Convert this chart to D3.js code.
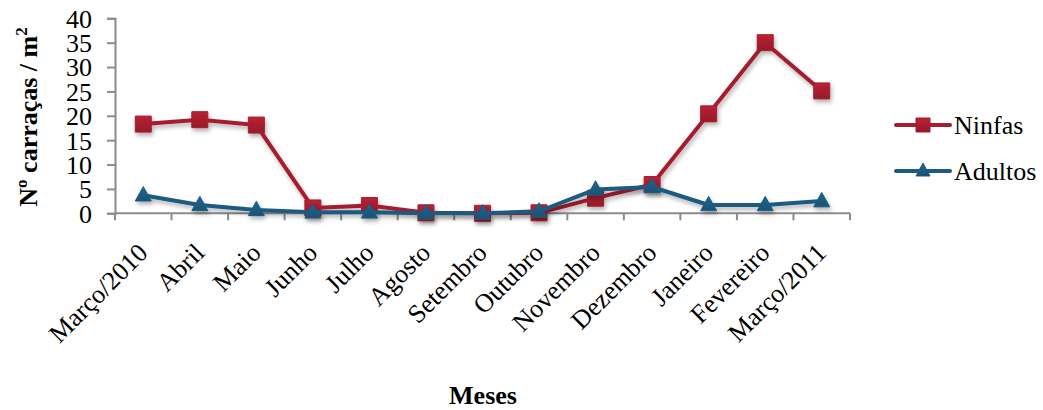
<!DOCTYPE html>
<html>
<head>
<meta charset="utf-8">
<script src="https://cdn.jsdelivr.net/npm/d3@7"></script>
<style>
  html, body { margin: 0; padding: 0; background: #fff; }
  svg { display: block; }
  svg text { font-family: "Liberation Serif", "Times New Roman", Times, serif; }
</style>
</head>
<body>
<svg id="chart" width="1043" height="410"></svg>
<script>
// Monthly tick counts per m², March 2010 – March 2011
const meses = ["Março/2010", "Abril", "Maio", "Junho", "Julho", "Agosto", "Setembro",
               "Outubro", "Novembro", "Dezembro", "Janeiro", "Fevereiro", "Março/2011"];
const ninfas  = [18.3, 19.2, 18.1, 1.1, 1.6, 0.1, 0.0, 0.1, 3.1, 5.9, 20.4, 35.0, 25.1];
const adultos = [3.7, 1.7, 0.7, 0.2, 0.2, 0.0, 0.0, 0.4, 4.9, 5.4, 1.7, 1.7, 2.5];
const yTicks  = [0, 5, 10, 15, 20, 25, 30, 35, 40];

const series = [
  { name: "Ninfas",  values: ninfas,  color: "#A51D2F", marker: "square" },
  { name: "Adultos", values: adultos, color: "#1D5A80", marker: "triangle" }
];

const FONT = "Liberation Serif, Times New Roman, Times, serif";
const FS = 26;

const svg = d3.select("#chart").attr("font-family", FONT);
const plotLeft = 115, plotRight = 850, plotTop = 18.3, plotBottom = 213.3;

const x = d3.scaleBand().domain(meses).range([plotLeft, plotRight]).paddingInner(0).paddingOuter(0);
const y = d3.scaleLinear().domain([0, 40]).range([plotBottom, plotTop]);

// soft drop shadow under the series
const defs = svg.append("defs");
const f = defs.append("filter").attr("id", "shadow").attr("x", "-20%").attr("y", "-20%")
  .attr("width", "140%").attr("height", "140%");
f.append("feDropShadow").attr("dx", 1.5).attr("dy", 3).attr("stdDeviation", 2)
  .attr("flood-color", "#000").attr("flood-opacity", 0.3);

function gradient(id, color) {
  const g = defs.append("linearGradient").attr("id", id)
    .attr("x1", 0).attr("y1", 0).attr("x2", 0).attr("y2", 1);
  g.append("stop").attr("offset", "0%").attr("stop-color", d3.color(color).brighter(0.35));
  g.append("stop").attr("offset", "100%").attr("stop-color", d3.color(color).darker(0.3));
}
series.forEach(s => gradient("grad-" + s.name, s.color));

// Y axis
const yAxis = d3.axisLeft(y).tickValues(yTicks).tickSize(8).tickPadding(15);
const gy = svg.append("g").attr("transform", `translate(${plotLeft},0)`).call(yAxis)
  .attr("font-family", FONT).attr("font-size", FS);
gy.select(".domain").attr("stroke", "#8c8c8c").attr("stroke-width", 2);
gy.selectAll(".tick line").attr("stroke", "#8c8c8c").attr("stroke-width", 2);
gy.selectAll(".tick text").attr("fill", "#000").attr("dy", "0.34em");

// X axis: ticks at band boundaries
const gx = svg.append("g").attr("transform", `translate(0,${plotBottom})`);
gx.append("line").attr("x1", plotLeft).attr("x2", plotRight).attr("y1", 0).attr("y2", 0)
  .attr("stroke", "#8c8c8c").attr("stroke-width", 2);
const bounds = meses.map(m => x(m)).concat([plotRight]);
gx.selectAll("line.tk").data(bounds).join("line").attr("class", "tk")
  .attr("x1", d => d).attr("x2", d => d).attr("y1", 0).attr("y2", 7)
  .attr("stroke", "#8c8c8c").attr("stroke-width", 2);
gx.selectAll("text.lbl").data(meses).join("text").attr("class", "lbl")
  .attr("transform", d => `translate(${x(d) + x.bandwidth() / 2 + 6},${41}) rotate(-45)`)
  .attr("text-anchor", "end").attr("font-size", FS).attr("fill", "#000")
  .text(d => d);

// Series lines and markers
const line = d3.line().x((d, i) => x(meses[i]) + x.bandwidth() / 2).y(d => y(d));
const sq = 16, tri = 16;
series.forEach(s => {
  const g = svg.append("g").attr("filter", "url(#shadow)");
  g.append("path").datum(s.values).attr("d", line).attr("fill", "none")
    .attr("stroke", s.color).attr("stroke-width", 4).attr("stroke-linejoin", "round");
  const pts = g.selectAll("path.mk").data(s.values).join("path").attr("class", "mk")
    .attr("transform", (d, i) => `translate(${x(meses[i]) + x.bandwidth() / 2},${y(d)})`)
    .attr("fill", `url(#grad-${s.name})`).attr("stroke", s.color).attr("stroke-width", 1);
  if (s.marker === "square") {
    pts.attr("d", `M${-sq/2},${-sq/2}h${sq}v${sq}h${-sq}Z`);
  } else {
    const h = tri * 0.9;
    pts.attr("d", `M0,${-h*0.6}L${tri/2},${h*0.4}L${-tri/2},${h*0.4}Z`);
  }
});

// Legend
const legY = [125, 171];
series.forEach((s, i) => {
  const g = svg.append("g").attr("transform", `translate(0,${legY[i]})`);
  g.append("line").attr("x1", 896).attr("x2", 950).attr("y1", 0).attr("y2", 0)
    .attr("stroke", s.color).attr("stroke-width", 4).attr("stroke-linecap", "round");
  const m = g.append("path").attr("transform", "translate(923,0)")
    .attr("fill", `url(#grad-${s.name})`).attr("stroke", s.color).attr("stroke-width", 1);
  if (s.marker === "square") m.attr("d", "M-7,-7h14v14h-14Z");
  else m.attr("d", "M0,-8L7,5L-7,5Z");
  g.append("text").attr("x", 954).attr("y", 9).attr("font-size", FS).attr("fill", "#000").text(s.name);
});

// Axis titles
svg.append("text").attr("transform", "translate(37,117) rotate(-90)")
  .attr("text-anchor", "middle").attr("font-size", FS).attr("font-weight", "bold")
  .html("Nº carraças / m<tspan dy='-10' font-size='17'>2</tspan>");
svg.append("text").attr("x", 483).attr("y", 404).attr("text-anchor", "middle")
  .attr("font-size", FS).attr("font-weight", "bold").text("Meses");
</script>
</body>
</html>
